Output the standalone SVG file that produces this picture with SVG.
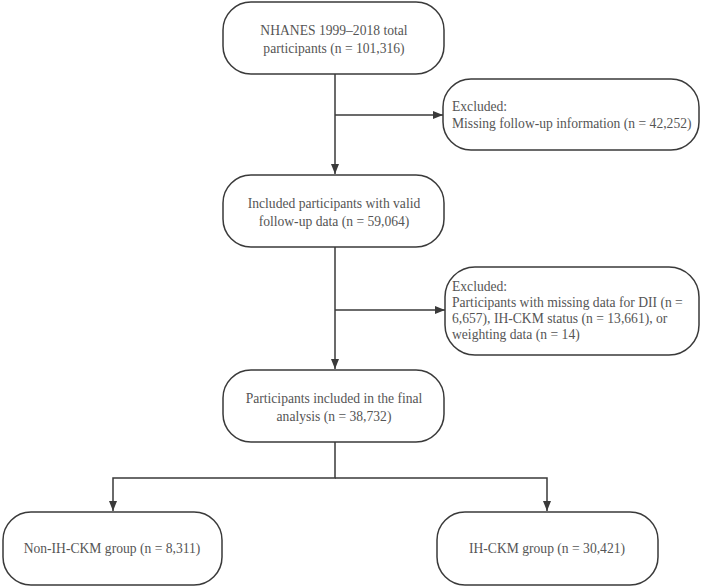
<svg xmlns="http://www.w3.org/2000/svg" width="702" height="587" viewBox="0 0 702 587">
<style>
.box{fill:#fff;stroke:#3a3a3a;stroke-width:1.5}
.t{font-family:"Liberation Serif","Times New Roman",serif;font-size:13.6px;fill:#555}
.c{text-anchor:middle}
.ln{fill:none;stroke:#3a3a3a;stroke-width:1.5}
</style>
<defs>
<marker id="ah" viewBox="0 0 10 10" refX="10" refY="5" markerWidth="10" markerHeight="10" markerUnits="userSpaceOnUse" orient="auto">
<path d="M0,1 L10,5 L0,9 z" fill="#3a3a3a"/>
</marker>
</defs>
<rect width="702" height="587" fill="#fff"/>
<g id="connectors">
<path class="ln" d="M335,74 V174" marker-end="url(#ah)"/>
<path class="ln" d="M335,115 H443" marker-end="url(#ah)"/>
<path class="ln" d="M335,247 V369" marker-end="url(#ah)"/>
<path class="ln" d="M335,310 H445" marker-end="url(#ah)"/>
<path class="ln" d="M335,442 V478 H113 V511" marker-end="url(#ah)"/>
<path class="ln" d="M335,478 H547 V511" marker-end="url(#ah)"/>
</g>
<g id="n1">
<rect class="box" x="223" y="2" width="221" height="72" rx="28" ry="28"/>
<text class="t c" x="334" y="35">NHANES 1999–2018 total</text>
<text class="t c" x="334" y="53">participants (n = 101,316)</text>
</g>
<g id="ex1">
<rect class="box" x="443" y="79" width="256" height="71" rx="28" ry="28"/>
<text class="t" x="452" y="111">Excluded:</text>
<text class="t" x="452" y="128">Missing follow-up information (n = 42,252)</text>
</g>
<g id="n2">
<rect class="box" x="223" y="175" width="221" height="72" rx="28" ry="28"/>
<text class="t c" x="334" y="208">Included participants with valid</text>
<text class="t c" x="334" y="226">follow-up data (n = 59,064)</text>
</g>
<g id="ex2">
<rect class="box" x="445" y="267" width="254" height="88" rx="30" ry="30"/>
<text class="t" x="452" y="291">Excluded:</text>
<text class="t" x="452" y="307">Participants with missing data for DII (n =</text>
<text class="t" x="452" y="323">6,657), IH-CKM status (n = 13,661), or</text>
<text class="t" x="452" y="339">weighting data (n = 14)</text>
</g>
<g id="n3">
<rect class="box" x="223" y="370" width="221" height="72" rx="28" ry="28"/>
<text class="t c" x="334" y="403">Participants included in the final</text>
<text class="t c" x="334" y="421">analysis (n = 38,732)</text>
</g>
<g id="n4">
<rect class="box" x="3" y="512" width="219" height="73" rx="28" ry="28"/>
<text class="t c" x="112" y="553">Non-IH-CKM group (n = 8,311)</text>
</g>
<g id="n5">
<rect class="box" x="437" y="512" width="221" height="73" rx="28" ry="28"/>
<text class="t c" x="547" y="553">IH-CKM group (n = 30,421)</text>
</g>
</svg>
